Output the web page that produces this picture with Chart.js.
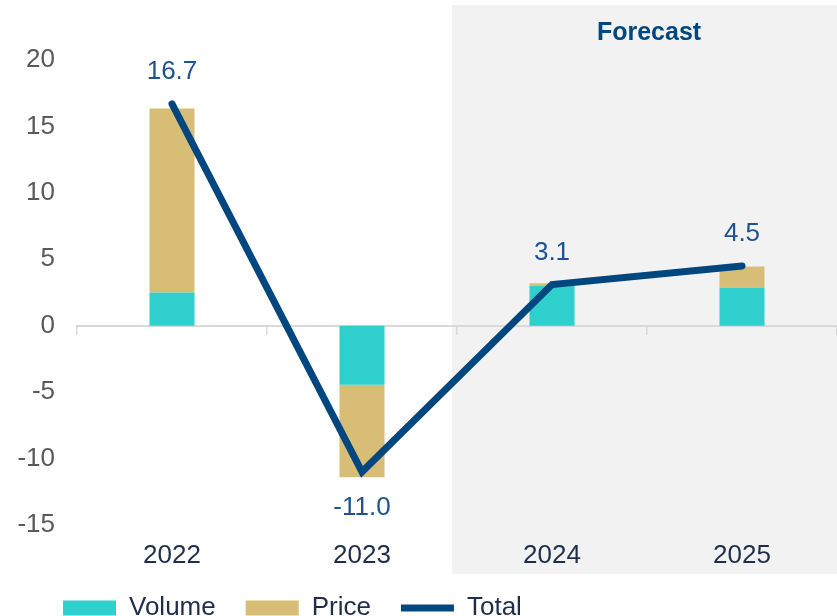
<!DOCTYPE html>
<html>
<head>
<meta charset="utf-8">
<title>Volume and price contributions</title>
<script src="https://cdn.jsdelivr.net/npm/chart.js@4/dist/chart.umd.min.js"></script>
<style>
    html, body { margin: 0; padding: 0; background: #ffffff; }
    #wrap { width: 837px; height: 616px; }
</style>
</head>
<body>
<div id="wrap"><canvas id="volumePriceChart" width="837" height="616"></canvas></div>
<script>
'use strict';

// ------------------------------------------------------- //
// Data
// ------------------------------------------------------ //
var YEARS = ['2022', '2023', '2024', '2025'];
var VOLUME = [2.5, -4.45, 3.0, 2.85];
var PRICE = [13.85, -6.95, 0.2, 1.6];
var TOTAL = [16.7, -11.0, 3.1, 4.5];
var Y_TICKS = [-15, -10, -5, 0, 5, 10, 15, 20];
var FORECAST_FROM = 2;   // index of first forecast year
var FORECAST_LABEL = 'Forecast';

var FONT = '"Liberation Sans", Arial, sans-serif';
var NAVY = '#00467f';
var LABEL_BLUE = '#1d5290';

// ------------------------------------------------------- //
// Forecast shading + header (behind axes and bars)
// ------------------------------------------------------ //
var forecastPlugin = {
    id: 'forecast',
    beforeDraw: function (chart) {
        var ctx = chart.ctx;
        var x = chart.scales.x;
        var area = chart.chartArea;
        var left = (x.getPixelForValue(FORECAST_FROM - 1) + x.getPixelForValue(FORECAST_FROM)) / 2 - 5;
        var top = area.top - 55;
        var bottom = x.bottom + 9;

        ctx.save();
        ctx.fillStyle = '#f2f2f2';
        ctx.fillRect(left, top, chart.width - left, bottom - top);

        var mid = (x.getPixelForValue(YEARS.length - 2) + x.getPixelForValue(YEARS.length - 1)) / 2;
        ctx.fillStyle = NAVY;
        ctx.font = 'bold 25px ' + FONT;
        ctx.textAlign = 'center';
        ctx.textBaseline = 'middle';
        ctx.fillText(FORECAST_LABEL, mid + 2, area.top - 27);
        ctx.restore();
    }
};

// ------------------------------------------------------- //
// Value labels on the Total line
// ------------------------------------------------------ //
var totalLabelPlugin = {
    id: 'totalLabels',
    afterDatasetsDraw: function (chart) {
        var ctx = chart.ctx;
        var meta = chart.getDatasetMeta(2);
        ctx.save();
        ctx.fillStyle = LABEL_BLUE;
        ctx.font = '26px ' + FONT;
        ctx.textAlign = 'center';
        ctx.textBaseline = 'middle';
        meta.data.forEach(function (pt, i) {
            var v = TOTAL[i];
            var dy = v < 0 ? 36 : -32;
            ctx.fillText(v.toFixed(1), pt.x, pt.y + dy);
        });
        ctx.restore();
    }
};

// legend sits a bit right of the canvas edge in the original
var legendShift = {
    id: 'legendShift',
    afterLayout: function (chart) {
        chart.legend.left += 33;
        chart.legend.right += 33;
    }
};

// ------------------------------------------------------- //
// Chart
// ------------------------------------------------------ //
var CHARTEL = document.getElementById('volumePriceChart');
var volumePriceChart = new Chart(CHARTEL, {
    type: 'bar',
    data: {
        labels: YEARS,
        datasets: [{
            label: 'Volume',
            data: VOLUME,
            backgroundColor: '#2ecfcd',
            borderWidth: 0,
            pointStyle: 'rect',
            order: 1,
            barPercentage: 0.237,
            categoryPercentage: 1
        }, {
            label: 'Price',
            data: PRICE,
            backgroundColor: '#d7bd76',
            borderWidth: 0,
            pointStyle: 'rect',
            order: 1,
            barPercentage: 0.237,
            categoryPercentage: 1
        }, {
            type: 'line',
            label: 'Total',
            data: TOTAL,
            borderColor: NAVY,
            backgroundColor: NAVY,
            borderWidth: 7,
            borderCapStyle: 'round',
            borderJoinStyle: 'miter',
            pointRadius: 0,
            pointHoverRadius: 0,
            pointStyle: 'line',
            tension: 0,
            order: 0
        }]
    },
    options: {
        responsive: false,
        animation: false,
        events: [],
        layout: {
            padding: { top: 60, left: 0, right: 0, bottom: -15 }
        },
        scales: {
            x: {
                stacked: true,
                offset: true,
                grid: { display: false, offset: true, drawTicks: false },
                border: { display: false },
                ticks: {
                    color: '#1f2d4a',
                    font: { family: FONT, size: 26 },
                    padding: 15
                },
                afterFit: function (scale) { scale.height = 40; }
            },
            x2: {
                type: 'category',
                position: { y: 0 },
                offset: true,
                grid: {
                    display: true,
                    offset: true,
                    drawOnChartArea: false,
                    drawTicks: true,
                    tickLength: 8,
                    color: '#d9d9d9',
                    lineWidth: 1.5
                },
                border: { display: true, color: '#d9d9d9', width: 2 },
                ticks: { display: false }
            },
            y: {
                stacked: true,
                min: Y_TICKS[0],
                max: Y_TICKS[Y_TICKS.length - 1],
                afterBuildTicks: function (scale) {
                    scale.ticks = Y_TICKS.map(function (v) { return { value: v }; });
                },
                grid: { display: false, drawTicks: false },
                border: { display: false },
                ticks: {
                    color: '#595959',
                    font: { family: FONT, size: 26 },
                    padding: 22
                },
                afterFit: function (scale) { scale.width = 77; }
            }
        },
        plugins: {
            legend: {
                position: 'bottom',
                align: 'start',
                labels: {
                    usePointStyle: true,
                    pointStyleWidth: 53,
                    boxHeight: 15,
                    padding: 30,
                    color: '#1f2d4a',
                    font: { family: FONT, size: 26 },
                    sort: function (a, b) { return a.datasetIndex - b.datasetIndex; }
                }
            },
            tooltip: { enabled: false }
        }
    },
    plugins: [forecastPlugin, totalLabelPlugin, legendShift]
});
</script>
</body>
</html>
